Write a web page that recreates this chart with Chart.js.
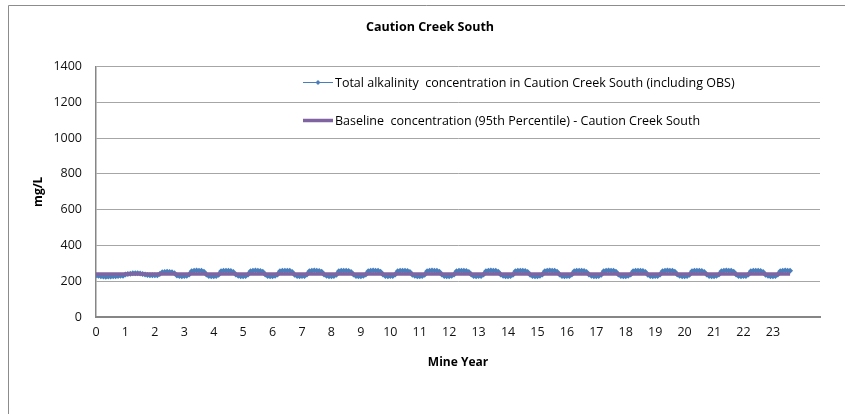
<!DOCTYPE html>
<html>
<head>
<meta charset="utf-8">
<script src="https://cdn.jsdelivr.net/npm/chart.js@4/dist/chart.umd.min.js"></script>
<style>
  html, body { margin: 0; padding: 0; background: #fff; }
  #wrap { position: relative; width: 845px; height: 414px; }
</style>
</head>
<body>
<div id="wrap"><canvas id="c" width="845" height="414"></canvas></div>
<script>
"use strict";
// Caution Creek South — total alkalinity (mg/L), one value per month of mine life
const STEPS_PER_YEAR = 12;
const alkalinity = [
  232, 230, 228, 226, 225, 226, 227, 228, 228, 229, 230, 231, // yr 0
  238, 240, 242, 244, 245, 244, 243, 240, 237, 235, 234, 234, // yr 1
  233, 234, 240, 250, 252, 253, 252, 250, 244, 232, 229, 228, // yr 2
  229, 230, 238, 256, 259, 260, 259, 258, 253, 237, 229, 228, // yr 3
  228, 229, 236, 255, 258, 259, 259, 257, 252, 238, 230, 228, // yr 4
  228, 229, 237, 256, 259, 260, 258, 257, 253, 237, 229, 228, // yr 5
  228, 230, 238, 255, 258, 259, 259, 258, 252, 236, 229, 228, // yr 6
  229, 229, 237, 256, 259, 260, 259, 257, 253, 237, 230, 228, // yr 7
  228, 229, 236, 255, 258, 259, 258, 257, 252, 238, 229, 228, // yr 8
  228, 230, 238, 256, 259, 260, 259, 258, 253, 237, 229, 228, // yr 9
  229, 229, 237, 255, 258, 259, 259, 257, 252, 236, 230, 228, // yr 10
  228, 229, 236, 256, 259, 260, 258, 258, 253, 237, 229, 228, // yr 11
  228, 230, 238, 255, 258, 259, 259, 257, 252, 238, 229, 228, // yr 12
  229, 229, 237, 256, 259, 260, 259, 258, 253, 237, 230, 228, // yr 13
  228, 229, 236, 255, 258, 259, 258, 257, 252, 236, 229, 228, // yr 14
  228, 230, 238, 256, 259, 260, 259, 258, 253, 237, 229, 228, // yr 15
  229, 229, 237, 255, 258, 259, 259, 257, 252, 238, 230, 228, // yr 16
  228, 229, 236, 256, 259, 260, 258, 258, 253, 237, 229, 228, // yr 17
  228, 230, 238, 255, 258, 259, 259, 257, 252, 236, 229, 228, // yr 18
  229, 229, 237, 256, 259, 260, 259, 258, 253, 237, 230, 228, // yr 19
  228, 229, 236, 255, 258, 259, 258, 257, 252, 238, 229, 228, // yr 20
  228, 230, 238, 256, 259, 260, 259, 258, 253, 237, 229, 228, // yr 21
  229, 229, 237, 255, 258, 259, 259, 257, 252, 236, 230, 228, // yr 22
  228, 229, 237, 256, 259, 260, 259, 258                      // yr 23
];
const BASELINE_95 = 240;
const X_TICKS = [0, 1, 2, 3, 4, 5, 6, 7, 8, 9, 10, 11, 12, 13, 14, 15, 16, 17, 18, 19, 20, 21, 22, 23];
const Y_TICKS = [0, 200, 400, 600, 800, 1000, 1200, 1400];

const BLUE = "#4a7ebb", PURPLE = "#8064a2";
const FONT = "'Open Sans', 'Noto Sans', sans-serif";
const LABEL_ALK = "Total alkalinity  concentration in Caution Creek South (including OBS)";
const LABEL_BASE = "Baseline  concentration (95th Percentile) - Caution Creek South";

const alkPts = alkalinity.map((v, i) => ({ x: i / STEPS_PER_YEAR, y: v }));
const lastX = alkPts[alkPts.length - 1].x;
const basePts = [{ x: 0, y: BASELINE_95 }, { x: lastX, y: BASELINE_95 }];

// frame, title and the in-plot legend (Excel style)
const decor = {
  id: "decor",
  beforeDraw(chart) {
    const ctx = chart.ctx;
    ctx.save();
    ctx.strokeStyle = "#8c8c8c"; ctx.lineWidth = 1;
    ctx.beginPath(); ctx.moveTo(8.5, 414); ctx.lineTo(8.5, 5.5); ctx.lineTo(845, 5.5); ctx.stroke();
    ctx.fillStyle = "#000"; ctx.font = "bold 12.5px " + FONT;
    ctx.textAlign = "center"; ctx.textBaseline = "middle";
    ctx.fillText("Caution Creek South", 430, 27, 136);
    ctx.restore();
  },
  afterDraw(chart) {
    const ctx = chart.ctx;
    ctx.save();
    // entry 1: thin blue line + diamond
    ctx.strokeStyle = BLUE; ctx.lineWidth = 1;
    ctx.beginPath(); ctx.moveTo(303, 82.5); ctx.lineTo(333, 82.5); ctx.stroke();
    ctx.fillStyle = BLUE;
    ctx.beginPath(); ctx.moveTo(318, 80); ctx.lineTo(320.5, 82.5); ctx.lineTo(318, 85); ctx.lineTo(315.5, 82.5); ctx.closePath(); ctx.fill();
    // entry 2: thick purple line
    ctx.strokeStyle = PURPLE; ctx.lineWidth = 3.5;
    ctx.beginPath(); ctx.moveTo(303, 120.5); ctx.lineTo(333, 120.5); ctx.stroke();
    ctx.fillStyle = "#000"; ctx.font = "12.5px " + FONT;
    ctx.textAlign = "left"; ctx.textBaseline = "middle";
    ctx.fillText(LABEL_ALK, 335, 83, 401);
    ctx.fillText(LABEL_BASE, 335, 121, 370);
    ctx.restore();
  }
};

new Chart(document.getElementById("c"), {
  type: "line",
  data: {
    datasets: [
      { label: LABEL_ALK, data: alkPts, borderColor: BLUE, backgroundColor: BLUE, borderWidth: 1,
        pointStyle: "rectRot", pointRadius: 3, pointBorderWidth: 0, pointBackgroundColor: BLUE, order: 2 },
      { label: LABEL_BASE, data: basePts, borderColor: PURPLE, borderWidth: 3.5, pointRadius: 0, order: 1 }
    ]
  },
  options: {
    responsive: false, animation: false, devicePixelRatio: 1,
    layout: { padding: { top: 66.5, right: 25, bottom: 0, left: 0 } },
    plugins: { legend: { display: false }, tooltip: { enabled: false } },
    scales: {
      x: {
        type: "linear", min: 0, max: 24.6,
        afterBuildTicks: s => { s.ticks = X_TICKS.map(v => ({ value: v })); },
        afterFit: s => { s.height = 97; },
        grid: { display: false, drawTicks: false },
        border: { display: true, color: "#868686", width: 2 },
        ticks: { autoSkip: false, maxRotation: 0, padding: 8, color: "#111", font: { family: FONT, size: 12.5 },
                 callback: v => String(v) },
        title: { display: true, text: "Mine Year", color: "#000", font: { family: FONT, size: 12, weight: "bold" }, padding: { top: 0, bottom: 44 } }
      },
      y: {
        min: 0, max: 1400,
        afterBuildTicks: s => { s.ticks = Y_TICKS.map(v => ({ value: v })); },
        afterFit: s => { s.width = 96; },
        grid: { color: "#a6a6a6", lineWidth: 1, drawTicks: false },
        border: { display: true, color: "#868686", width: 1.5 },
        ticks: { padding: 14, color: "#111", font: { family: FONT, size: 12.5 }, callback: v => String(v) },
        title: { display: true, text: "mg/L", color: "#000", font: { family: FONT, size: 12, weight: "bold" }, padding: { top: 31, bottom: 0 } }
      }
    }
  },
  plugins: [decor]
});
</script>
</body>
</html>
